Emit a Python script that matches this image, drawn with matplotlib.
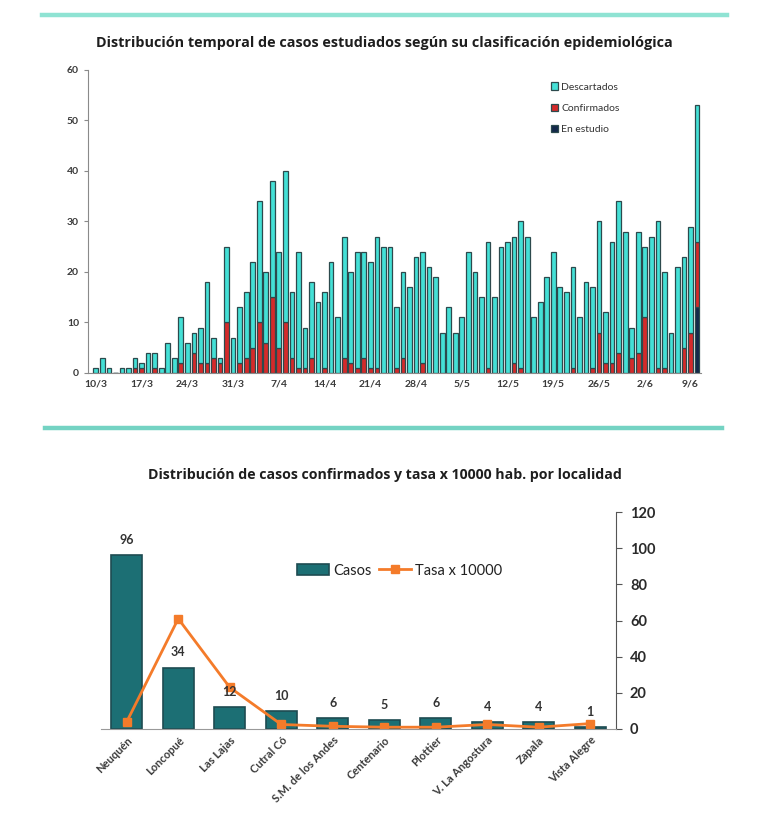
import matplotlib
matplotlib.use("Agg")
import matplotlib.pyplot as plt
from matplotlib.lines import Line2D
import numpy as np

plt.rcParams['font.family'] = ['Lato', 'DejaVu Sans']

# ---------------- Data: top chart (daily, 10/3 .. 10/6) ----------------
total_daily = [1, 3, 1, 0, 1, 1, 3, 2, 4, 4, 1, 6, 3, 11, 6, 8, 9, 18, 7, 3,
               25, 7, 13, 16, 22, 34, 20, 38, 24, 40, 16, 24, 9, 18, 14, 16, 22, 11, 27, 20,
               24, 24, 22, 27, 25, 25, 13, 20, 17, 23, 24, 21, 19, 8, 13, 8, 11, 24, 20, 15,
               26, 15, 25, 26, 27, 30, 27, 11, 14, 19, 24, 17, 16, 21, 11, 18, 17, 30, 12, 26,
               34, 28, 9, 28, 25, 27, 30, 20, 8, 21, 23, 29, 53]
confirmados = [0, 0, 0, 0, 0, 0, 1, 1, 0, 1, 0, 0, 0, 2, 0, 4, 2, 2, 3, 2,
               10, 0, 2, 3, 5, 10, 6, 15, 5, 10, 3, 1, 1, 3, 0, 1, 0, 0, 3, 2,
               1, 3, 1, 1, 0, 0, 1, 3, 0, 0, 2, 0, 0, 0, 0, 0, 0, 0, 0, 0,
               1, 0, 0, 0, 2, 1, 0, 0, 0, 0, 0, 0, 0, 1, 0, 0, 1, 8, 2, 2,
               4, 0, 3, 4, 11, 0, 1, 1, 0, 0, 5, 8, 13]
en_estudio = [0] * 92 + [13]
descartados = [t - c - e for t, c, e in zip(total_daily, confirmados, en_estudio)]
date_labels = ['10/3', '17/3', '24/3', '31/3', '7/4', '14/4', '21/4', '28/4',
               '5/5', '12/5', '19/5', '26/5', '2/6', '9/6']

# ---------------- Data: bottom chart ----------------
localidades = ['Neuquén', 'Loncopué', 'Las Lajas', 'Cutral Có', 'S.M. de los Andes',
               'Centenario', 'Plottier', 'V. La Angostura', 'Zapala', 'Vista Alegre']
casos = [96, 34, 12, 10, 6, 5, 6, 4, 4, 1]
tasa = [4, 61, 23, 2.5, 1.5, 1, 1, 2.5, 1, 3]

W, H = 774, 816
fig = plt.figure(figsize=(W / 100, H / 100), dpi=100)

def fx(px):
    return px / W

def fy(py):
    return 1 - py / H

# decorative separator lines
fig.add_artist(Line2D([fx(42), fx(727)], [fy(15), fy(15)], color='#8fe3d3', lw=3.2,
                      transform=fig.transFigure))
fig.add_artist(Line2D([fx(45), fx(722)], [fy(428), fy(428)], color='#74d3c3', lw=3.2,
                      transform=fig.transFigure))

# titles
fig.text(fx(384), fy(43), 'Distribución temporal de casos estudiados según su clasificación epidemiológica',
         ha='center', va='center', fontsize=10.4, fontweight='bold', color='#1e1e1e',
         family=['Open Sans', 'DejaVu Sans'])
fig.text(fx(385), fy(475), 'Distribución de casos confirmados y tasa x 10000 hab. por localidad',
         ha='center', va='center', fontsize=10.2, fontweight='bold', color='#1e1e1e',
         family=['Open Sans', 'DejaVu Sans'])

# ---------------- Top chart ----------------
ax1 = fig.add_axes([fx(88), fy(373), fx(701 - 88), (373 - 70) / H])
x = np.arange(len(total_daily))
edge = '#2c4a4d'
bw = 0.72
ax1.bar(x, en_estudio, width=bw, color='#13284a', edgecolor=edge, linewidth=0.9, label='En estudio')
ax1.bar(x, confirmados, width=bw, bottom=en_estudio, color='#d42a2a', edgecolor=edge,
        linewidth=0.9, label='Confirmados')
bottom2 = [e + c for e, c in zip(en_estudio, confirmados)]
ax1.bar(x, descartados, width=bw, bottom=bottom2, color='#44e0d6', edgecolor=edge,
        linewidth=0.9, label='Descartados')
ax1.set_xlim(-1.2, 92.6)
ax1.set_ylim(0, 60)
ax1.set_yticks(range(0, 61, 10))
ax1.set_xticks(np.arange(0, 92, 7))
ax1.set_xticklabels(date_labels)
for s in ['top', 'right']:
    ax1.spines[s].set_visible(False)
ax1.spines['left'].set_color('#8a8a8a')
ax1.spines['bottom'].set_color('#8a8a8a')
ax1.tick_params(axis='y', length=3, color='#8a8a8a', labelsize=7.5, labelcolor='#3a3a3a')
ax1.tick_params(axis='x', length=0, labelsize=7.5, labelcolor='#3a3a3a', pad=5)
for lab in ax1.get_xticklabels() + ax1.get_yticklabels():
    lab.set_fontweight('bold')
h, l = ax1.get_legend_handles_labels()
ax1.legend(h[::-1], l[::-1], loc='upper left', bbox_to_anchor=(0.74, 0.99), frameon=False,
           fontsize=7.5, handlelength=0.7, handleheight=0.7, handletextpad=0.3,
           labelspacing=1.15, labelcolor='#333333')

# ---------------- Bottom chart ----------------
ax2 = fig.add_axes([fx(101), fy(729), fx(616 - 101), (729 - 512) / H])
xi = np.arange(len(localidades))
bar_c = ax2.bar(xi, casos, width=0.6, color='#1c6f74', edgecolor='#1e4b52', linewidth=1.2,
                label='Casos')
line_t, = ax2.plot(xi, tasa, color='#f47b2a', lw=2, marker='s', markersize=6,
                   label='Tasa x 10000')
for xv, v in zip(xi, casos):
    ax2.text(xv, v + 5, str(v), ha='center', va='bottom', fontsize=9, fontweight='bold',
             color='#333333')
ax2.set_xlim(-0.5, 9.5)
ax2.set_ylim(0, 120)
ax2.set_yticks(range(0, 121, 20))
ax2.yaxis.tick_right()
for s in ['top', 'left']:
    ax2.spines[s].set_visible(False)
ax2.spines['right'].set_color('#555555')
ax2.spines['bottom'].set_color('#999999')
ax2.tick_params(axis='y', length=4, color='#555555', labelsize=10.5, labelcolor='#2a2a2a',
                direction='out', pad=6)
ax2.set_xticks(xi)
ax2.set_xticklabels(localidades, rotation=45, ha='right', rotation_mode='anchor')
ax2.tick_params(axis='x', length=0, labelsize=8, labelcolor='#3a3a3a', pad=4)
for lab in ax2.get_xticklabels() + ax2.get_yticklabels():
    lab.set_fontweight('bold')
ax2.legend([bar_c, line_t], ['Casos', 'Tasa x 10000'], loc='center',
           bbox_to_anchor=(0.58, 0.73), ncol=2, frameon=False, fontsize=10.5,
           handlelength=2.2, columnspacing=0.5, handletextpad=0.3, labelcolor='#222222')

fig.savefig('out.png', dpi=100, facecolor='white')
